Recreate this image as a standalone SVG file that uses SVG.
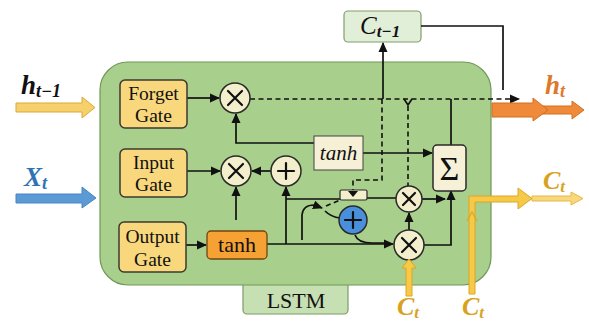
<svg xmlns="http://www.w3.org/2000/svg" width="589" height="322" viewBox="0 0 589 322">
<style>
.gate{fill:#f9d77c;stroke:#3b3a30;stroke-width:1.5}
.gt{font-family:"Liberation Serif","Times New Roman",serif;font-size:19.5px;fill:#111;text-anchor:middle}
.op{fill:#f3eecb;stroke:#2a2a2a;stroke-width:1.5}
.sym{stroke:#111;stroke-width:2.2;fill:none;stroke-linecap:round}
.ln{stroke:#111;stroke-width:1.7;fill:none}
.ds{stroke:#111;stroke-width:1.6;fill:none;stroke-dasharray:5 3.5}
.math{font-family:"Liberation Serif","Times New Roman",serif;font-style:italic;font-weight:bold}
</style>
<defs>
<marker id="ah" markerUnits="userSpaceOnUse" markerWidth="10" markerHeight="10" viewBox="0 0 10 10" refX="9" refY="5" orient="auto">
<path d="M0,0.5 L10,5 L0,9.5 Z" fill="#111"/>
</marker>
</defs>
<rect width="589" height="322" fill="#ffffff"/>

<g id="lstm-tab">
<rect x="243" y="270" width="105" height="44" rx="4" fill="#c6e0b3" stroke="#7d9b69" stroke-width="1.2"/>
<text x="296" y="308" font-family="'Liberation Serif','Times New Roman',serif" font-size="22" text-anchor="middle" fill="#111">LSTM</text>
</g>
<g id="lstm-box">
<rect x="100" y="62" width="391" height="223" rx="28" fill="#a8cf8b" stroke="#6e9858" stroke-width="1.2"/>
</g>

<g id="c-prev">
<rect x="344" y="11" width="77" height="31" rx="4" fill="#e2efd8" stroke="#7f9f6a" stroke-width="1.2"/>
<text x="360" y="34" font-family="'Liberation Serif','Times New Roman',serif" font-style="italic" font-size="25" fill="#111">C<tspan font-size="17" font-weight="bold" dy="3">t−1</tspan></text>
</g>

<g id="connectors">
<path class="ln" d="M187,98 H219" marker-end="url(#ah)"/>
<path class="ln" d="M187,171 H220" marker-end="url(#ah)"/>
<path class="ln" d="M186,245 H206" marker-end="url(#ah)"/>
<path class="ln" d="M271,171 H252" marker-end="url(#ah)"/>
<path class="ln" d="M236,220 V187" marker-end="url(#ah)"/>
<path class="ln" d="M267,244 H393" marker-end="url(#ah)"/>
<path class="ln" d="M286,244 V187" marker-end="url(#ah)"/>
<path class="ln" d="M286,199 H340 M367,198 H397"/>
<path class="ln" d="M422,199 H445" marker-end="url(#ah)"/>
<path class="ln" d="M424,245 H451 V191" marker-end="url(#ah)"/>
<path class="ln" d="M409,230 V213" marker-end="url(#ah)"/>
<path class="ln" d="M314,143 H236 V114" marker-end="url(#ah)"/>
<path class="ln" d="M363,153 H432" marker-end="url(#ah)"/>
<path class="ln" d="M451,145 V99"/>
<path class="ds" d="M250,99 H519" marker-end="url(#ah)"/>
<path class="ln" d="M383,99 V43" marker-end="url(#ah)"/>
<path class="ln" d="M421,26 H503 V90"/>
<path class="ds" d="M382,99 V180 H353 V190"/>
<path class="ds" d="M408,106 V187"/>
<path class="ln" d="M404,99 L408,105 L412,99" stroke-width="1.3"/>
<path class="ln" d="M302,240 V215 Q303,205 314,205 L322,208" marker-end="url(#ah)"/>
<path class="ln" d="M325,211 Q331,217 340,218"/>
<path class="ds" d="M326,206 L340,200" stroke-dasharray="4 3"/>
<path class="ln" d="M355,235 Q358,243 372,243 H385"/>
</g>

<g id="forget-gate">
<rect class="gate" x="120" y="80" width="67" height="48" rx="5"/>
<text class="gt" x="153.5" y="100">Forget</text>
<text class="gt" x="153.5" y="122">Gate</text>
</g>
<g id="input-gate">
<rect class="gate" x="120" y="149" width="67" height="48" rx="5"/>
<text class="gt" x="153.5" y="169">Input</text>
<text class="gt" x="153.5" y="191">Gate</text>
</g>
<g id="output-gate">
<rect class="gate" x="119" y="222" width="67" height="50" rx="5"/>
<text class="gt" x="152.5" y="243">Output</text>
<text class="gt" x="152.5" y="266">Gate</text>
</g>
<g id="tanh-out">
<rect x="207" y="231" width="60" height="28" rx="4" fill="#f5a134" stroke="#6e4512" stroke-width="1.3"/>
<text x="237" y="252" font-family="'Liberation Serif','Times New Roman',serif" font-size="22" text-anchor="middle" fill="#111">tanh</text>
</g>
<g id="tanh-cell">
<rect x="314" y="136" width="49" height="34" fill="#f5f0d6" stroke="#444" stroke-width="1"/>
<text x="338.5" y="160" font-family="'Liberation Serif','Times New Roman',serif" font-style="italic" font-size="21" text-anchor="middle" fill="#111">tanh</text>
</g>
<g id="sum">
<rect x="433" y="145" width="33" height="46" rx="4" fill="#f5f0d6" stroke="#2a2a2a" stroke-width="1.5"/>
<text x="449.5" y="180" font-family="'Liberation Serif','Times New Roman',serif" font-size="34" text-anchor="middle" fill="#111">Σ</text>
</g>
<g id="mul-forget">
<circle class="op" cx="235" cy="98" r="15"/>
<path class="sym" d="M228,91 L242,105 M242,91 L228,105"/>
</g>
<g id="mul-input">
<circle class="op" cx="236" cy="171" r="15"/>
<path class="sym" d="M229,164 L243,178 M243,164 L229,178"/>
</g>
<g id="add-input">
<circle class="op" cx="286" cy="171" r="15"/>
<path class="sym" d="M286,163 V179 M278,171 H294"/>
</g>
<g id="switch">
<rect x="340" y="190" width="27" height="10" rx="1.5" fill="#f3eecb" stroke="#2a2a2a" stroke-width="1.2"/>
<path d="M348,191 L358,191 L353,197 Z" fill="#111"/>
</g>
<g id="mul-upper">
<circle class="op" cx="409" cy="199" r="13"/>
<path class="sym" d="M403,193 L415,205 M415,193 L403,205"/>
</g>
<g id="add-blue">
<circle cx="353" cy="220" r="14" fill="#4a8fdb" stroke="#2a2a2a" stroke-width="1.5"/>
<path class="sym" d="M353,212 V228 M345,220 H361"/>
</g>
<g id="mul-lower">
<circle class="op" cx="409" cy="245" r="15"/>
<path class="sym" d="M402,238 L416,252 M416,238 L402,252"/>
</g>

<g id="h-prev">
<path d="M16,103 H82 V97 L95,107.5 L82,118 V112 H16 Z" fill="#f6d06a" stroke="#d9aa3a" stroke-width="1"/>
<text x="21" y="94" class="math" font-size="27" fill="#111">h<tspan font-size="18" dy="3">t−1</tspan></text>
</g>
<g id="x-in">
<path d="M16,194 H82 V187 L96,198 L82,208 V203 H16 Z" fill="#5b9bd5" stroke="#4a84bf" stroke-width="1"/>
<text x="24" y="186" class="math" font-size="27" fill="#2e74b5">X<tspan font-size="18" dy="3">t</tspan></text>
</g>
<g id="h-out">
<path d="M535,106 H572 V101 L584,110 L572,119 V114 H535 Z" fill="#ee8a3a" stroke="#d46f20" stroke-width="1"/>
<path d="M492,103 H533 V98 L548,110 L533,121 V117 H492 Z" fill="#ee8a3a" stroke="#d46f20" stroke-width="1"/>
<text x="545" y="94" class="math" font-size="27" fill="#e0782a">h<tspan font-size="18" dy="3">t</tspan></text>
</g>
<g id="c-out">
<path d="M532,196 H571 V192 L583,198.5 L571,205 V201 H532 Z" fill="#f8d87a" stroke="#e6b84a" stroke-width="1"/>
<path d="M469,294 V196 H518 V188 L532,198.5 L518,209 V202 H475 V294 Z" fill="#f7c948" stroke="#dca622" stroke-width="1"/>
<path d="M467,221 L472,212 L477,221" fill="none" stroke="#dca622" stroke-width="1.2"/>
<text x="543" y="189" class="math" font-size="26" fill="#d9a21e">C<tspan font-size="17" dy="3">t</tspan></text>
<text x="462" y="315" class="math" font-size="26" fill="#d9a21e">C<tspan font-size="17" dy="3">t</tspan></text>
</g>
<g id="c-in">
<path d="M406,296 V268 H402 L409,259 L416,268 H412 V296 Z" fill="#f7c948" stroke="#dca622" stroke-width="1"/>
<text x="397" y="315" class="math" font-size="26" fill="#d9a21e">C<tspan font-size="17" dy="3">t</tspan></text>
</g>
</svg>
